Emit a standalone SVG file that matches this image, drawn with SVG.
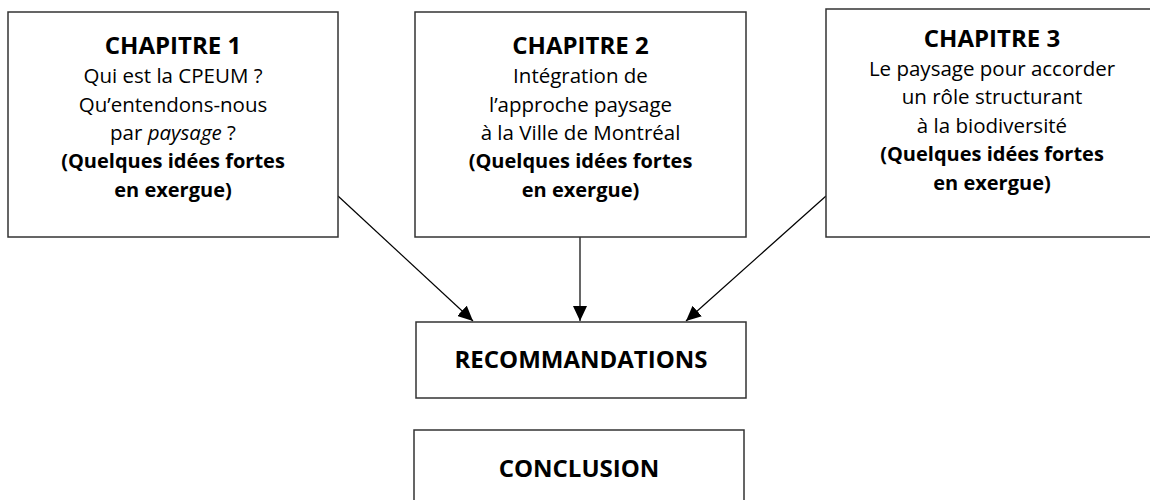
<svg xmlns="http://www.w3.org/2000/svg" width="1150" height="500" viewBox="0 0 1150 500">
<defs>
<style>
.box{fill:#fff;stroke:#333;stroke-width:1.5}
.h{font-family:"Open Sans","Liberation Sans",sans-serif;font-weight:bold;font-size:24px;fill:#000;text-anchor:middle}
.t{font-family:"Open Sans","Liberation Sans",sans-serif;font-size:20.5px;fill:#000;text-anchor:middle}
.b{font-family:"Open Sans","Liberation Sans",sans-serif;font-weight:bold;font-size:20px;fill:#000;text-anchor:middle}
.conn{stroke:#000;stroke-width:1.2;fill:none;marker-end:url(#arr)}
</style>
<marker id="arr" markerUnits="userSpaceOnUse" markerWidth="15" markerHeight="14" refX="15" refY="7" orient="auto">
<path d="M0,0 L15,7 L0,14 z" fill="#000"/>
</marker>
</defs>
<rect width="1150" height="500" fill="#fff"/>
<g id="connectors">
<line class="conn" x1="338" y1="196" x2="473" y2="321"/>
<line class="conn" x1="580" y1="237" x2="580" y2="321"/>
<line class="conn" x1="826" y1="196" x2="686" y2="321"/>
</g>
<g id="chapitre1">
<rect class="box" x="8" y="12" width="330" height="225"/>
<text class="h" x="173" y="54">CHAPITRE 1</text>
<text class="t" x="173" y="83">Qui est la CPEUM ?</text>
<text class="t" x="173" y="112">Qu’entendons-nous</text>
<text class="t" x="173" y="140">par <tspan font-style="italic">paysage</tspan> ?</text>
<text class="b" x="173" y="168">(Quelques idées fortes</text>
<text class="b" x="173" y="197">en exergue)</text>
</g>
<g id="chapitre2">
<rect class="box" x="415" y="12" width="331" height="225"/>
<text class="h" x="580.5" y="54">CHAPITRE 2</text>
<text class="t" x="580.5" y="83">Intégration de</text>
<text class="t" x="580.5" y="112">l’approche paysage</text>
<text class="t" x="580.5" y="140">à la Ville de Montréal</text>
<text class="b" x="580.5" y="168">(Quelques idées fortes</text>
<text class="b" x="580.5" y="197">en exergue)</text>
</g>
<g id="chapitre3">
<rect class="box" x="826" y="9" width="332" height="228"/>
<text class="h" x="992" y="47">CHAPITRE 3</text>
<text class="t" x="992" y="76">Le paysage pour accorder</text>
<text class="t" x="992" y="104">un rôle structurant</text>
<text class="t" x="992" y="133">à la biodiversité</text>
<text class="b" x="992" y="161">(Quelques idées fortes</text>
<text class="b" x="992" y="190">en exergue)</text>
</g>
<g id="recommandations">
<rect class="box" x="416" y="322" width="330" height="76"/>
<text class="h" x="581" y="368">RECOMMANDATIONS</text>
</g>
<g id="conclusion">
<rect class="box" x="414" y="430" width="330" height="80"/>
<text class="h" x="579" y="477">CONCLUSION</text>
</g>
</svg>
